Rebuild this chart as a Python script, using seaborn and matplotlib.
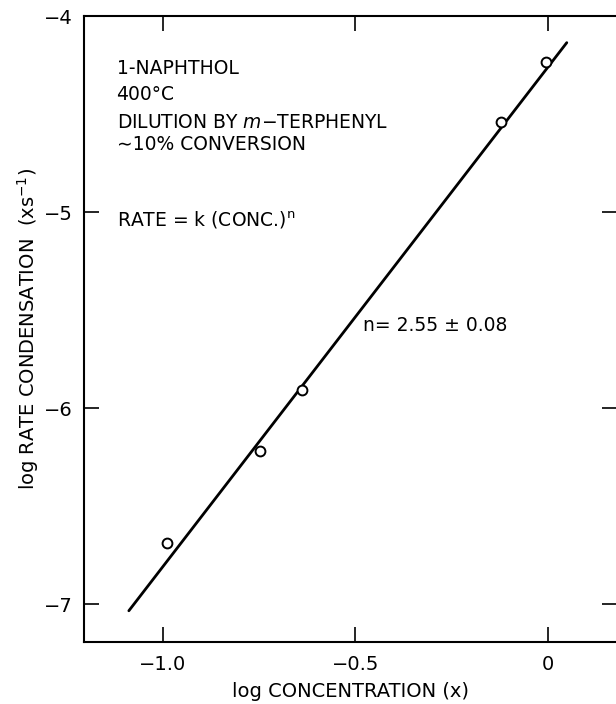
import numpy as np
import pandas as pd
import matplotlib
matplotlib.use("Agg")
import matplotlib.pyplot as plt
import seaborn as sns

# Data
log_conc = [-0.99, -0.748, -0.639, -0.122, -0.005]
log_rate = [-6.69, -6.22, -5.91, -4.54, -4.235]

# Fitted line: log rate = intercept + n * log conc
n_order = 2.55
intercept = -4.26
fit_x = np.array([-1.088, 0.049])
fit_y = intercept + n_order * fit_x

x_ticks = [-1.0, -0.5, 0.0]
x_ticklabels = ["\u22121.0", "\u22120.5", "0"]
y_ticks = [-7, -6, -5, -4]
y_ticklabels = ["\u22127", "\u22126", "\u22125", "\u22124"]

info_lines = [
    "1-NAPHTHOL",
    "400\u00b0C",
    "DILUTION BY $\\it{m}$\u2212TERPHENYL",
    "\u223c10% CONVERSION",
]
info_y = [-4.265, -4.40, -4.54, -4.655]

sns.set_style("ticks")
plt.rcParams["font.family"] = ["DejaVu Sans"]
plt.rcParams["mathtext.default"] = "regular"
plt.rcParams["text.color"] = "black"
plt.rcParams["axes.labelcolor"] = "black"

fig = plt.figure(figsize=(6.16, 7.04), dpi=100)
ax = fig.add_axes([0.136, 0.088, 0.866, 0.889])

points = pd.DataFrame({"x": log_conc, "y": log_rate})
fit = pd.DataFrame({"x": fit_x, "y": fit_y})

sns.lineplot(data=fit, x="x", y="y", ax=ax, color="black", linewidth=2.0)
sns.scatterplot(
    data=points, x="x", y="y", ax=ax,
    marker="o", s=50, facecolor="white", edgecolor="black", linewidth=1.4,
    zorder=3,
)

ax.set_xlim(-1.205, 0.18)
ax.set_ylim(-7.194, -4.0)
ax.set_xticks(x_ticks)
ax.set_xticklabels(x_ticklabels)
ax.set_yticks(y_ticks)
ax.set_yticklabels(y_ticklabels)

ax.tick_params(direction="in", length=11, width=1.2, labelsize=14,
               top=True, right=True, colors="black")
ax.tick_params(axis="x", pad=9)
ax.tick_params(axis="y", pad=8)
for side in ["left", "bottom", "top"]:
    ax.spines[side].set_linewidth(1.5)
    ax.spines[side].set_color("black")
ax.spines["right"].set_visible(False)

ax.set_xlabel("log CONCENTRATION (x)", fontsize=14, labelpad=6)
ax.set_ylabel("log RATE CONDENSATION  (xs$^{\u22121}$)", fontsize=14, labelpad=2)

# Annotation block in the upper left
for line, yy in zip(info_lines, info_y):
    ax.text(-1.12, yy, line, fontsize=13.5, va="center", ha="left")
ax.text(-1.12, -5.04, "RATE = k (CONC.)$^{n}$", fontsize=13.5, va="center", ha="left")
ax.text(-0.479, -5.577, "n= 2.55 \u00b1 0.08", fontsize=13.5, va="center", ha="left")

plt.savefig("out.png", dpi=100)
